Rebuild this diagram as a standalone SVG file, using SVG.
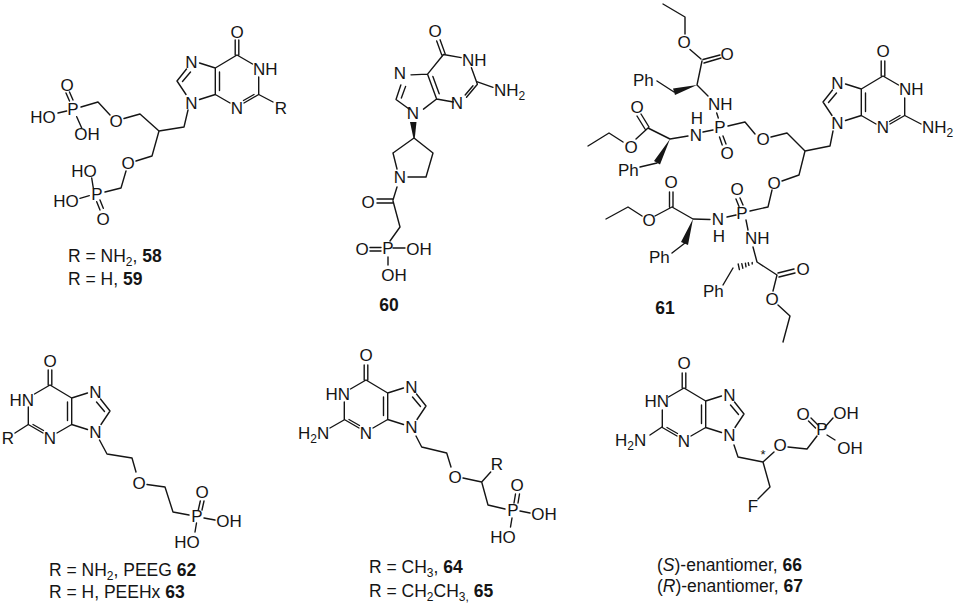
<svg xmlns="http://www.w3.org/2000/svg" width="957" height="607" viewBox="0 0 957 607">
<style>
text{font-family:"Liberation Sans",Arial,sans-serif;font-size:17px;fill:#151515}
.b{fill:none;stroke:#151515;stroke-width:1.4;stroke-linecap:round;stroke-linejoin:round}
.w{fill:#151515;stroke:none}
.m{text-anchor:middle}
.e{text-anchor:end}
.n{font-weight:bold}
.c{font-size:17.5px}
.s{font-size:12px}
.st{font-size:13px}
</style>
<defs>
<path id="purine" class="b" d="M0 0L15.5 9M21.7 22V39.5L7 48M17 39.5L6.5 45.5M-7 48L-21.7 39.5V13L0 0M-17.5 17V35.5M-21.7 13L-37.5 8M-50.5 14L-60 26M-46.5 17L-54.5 26.5M-60 26L-51 39.5M-37.5 44.5L-21.7 39.5M-1.8 0V-15M1.8 0V-15"/>
</defs>
<rect width="957" height="607" fill="#fff"/>

<g id="compound-58">
<use href="#purine" transform="translate(237 55)"/>
<path class="b" d="M258.7 94.5L273 102M188 110L184 127L159 131L140 114L124 118.5M110 115L98 102L81 107M69.5 101L66 93M73 100L69.5 92M58 113L66.7 111M76.7 116.7L81.7 128M159 131L152 156L136 161M126 171L121 188L105 192M96.7 201.7L100 210M100 200L103.3 208.3M93.3 188L91.7 178M80 198.3L89.3 195.7"/>
<text class="m" x="237" y="38">O</text>
<text x="253" y="75">NH</text>
<text class="m" x="237" y="113.5">N</text>
<text class="m" x="191.5" y="67.5">N</text>
<text class="m" x="191.5" y="108.5">N</text>
<text class="m" x="281" y="114">R</text>
<text class="m" x="116" y="127">O</text>
<text class="m" x="128" y="169">O</text>
<text class="m" x="73" y="115">P</text>
<text class="m" x="97" y="200">P</text>
<text class="m" x="67" y="91">O</text>
<text class="m" x="43" y="123">HO</text>
<text class="m" x="87" y="140">OH</text>
<text class="m" x="84" y="177">HO</text>
<text class="m" x="66" y="207">HO</text>
<text class="m" x="103" y="225">O</text>
<text class="c" x="68" y="262">R = NH<tspan class="s" dy="4">2</tspan><tspan dy="-4">, </tspan><tspan class="n">58</tspan></text>
<text class="c" x="68" y="285">R = H, <tspan class="n">59</tspan></text>
</g>

<g id="compound-60">
<use href="#purine" transform="translate(443.5 54.5) rotate(-20)"/>
<path class="b" d="M476.7 81.7L493 87.3M393 153L414 138L433 153L426 177L408 177M397 169L393 153M397 187L393 200M377 199H393M377 203H393M393 201L400 227L390 241M370 247.5H381M370 251H381M393 248H405M388 257V265"/>
<path class="w" d="M410 122L416.5 122L414.8 138L413.4 138Z"/>
<text class="m" x="435" y="37">O</text>
<text x="462" y="66">NH</text>
<text class="m" x="457" y="109">N</text>
<text class="m" x="400" y="79">N</text>
<text class="m" x="413" y="119">N</text>
<text x="494" y="96">NH<tspan class="s" dy="4">2</tspan></text>
<text class="m" x="400" y="183">N</text>
<text class="m" x="368" y="208">O</text>
<text class="m" x="362" y="255">O</text>
<text class="m" x="388" y="254">P</text>
<text class="m" x="419" y="255">OH</text>
<text class="m" x="394" y="281">OH</text>
<text class="m n c" x="389" y="311">60</text>
</g>

<g id="compound-61">
<use href="#purine" transform="translate(883 76)"/>
<path class="b" d="M904.7 115.5L921 124M833 131L830 146L805 151L787 133L771 137M755 134L745 122L728 126M723 136L726 144M719.5 137L722.2 145M716.7 113L718.3 118M703 132L713 130M688 136L670 139L648 128M649 127L641 114M645 129L637 116M648 128L636 139M623 142L609 133L588 146M640 167L657 163M708 96L697 85L702 61M703 59.5L720 55M704 63L721 58M690 49.5L701 59M685 34V17L663 4M674 92L657 81M805 151L799 175L782 181M772 190L768 207L750 211M736 199L739 206.5M740 198L743 205M727 217L736 215M710 219.5L693 219L672 207M669.5 192V207M673 192V207M672 207L655 216M642 216L628 207L606 219M685 243L672 253M746 220L748 230M753 247L757 262L777 275L773 291M778 273L794 269M779 277L795 273M778 305L790 316L783 342M733 268L723 285M752.2 262.4L752.2 264M748.3 262.8L748.9 265.4M745.4 263.2L746 266.8M741.8 263.6L742.8 268.2M738.2 264L739.4 269.6"/>
<path class="w" d="M670 139L654 161L660 164.500ZM697 85L673 88.500L675 95ZM693 219L681 242L688 245Z"/>
<text class="m" x="883" y="57">O</text>
<text x="899" y="95">NH</text>
<text class="m" x="883" y="133">N</text>
<text class="m" x="837.5" y="88.500">N</text>
<text class="m" x="837.5" y="129">N</text>
<text x="922" y="133">NH<tspan class="s" dy="4">2</tspan></text>
<text class="m" x="763" y="145">O</text>
<text class="m" x="774" y="189">O</text>
<text class="m" x="720" y="133">P</text>
<text class="m" x="727" y="159">O</text>
<text x="708" y="110">NH</text>
<text class="m" x="696" y="141">N</text>
<text class="m" x="697" y="124">H</text>
<text class="m" x="637" y="113">O</text>
<text class="m" x="631" y="153">O</text>
<text x="618" y="176">Ph</text>
<text class="m" x="684" y="48">O</text>
<text class="m" x="727" y="60">O</text>
<text x="633" y="86">Ph</text>
<text class="m" x="742" y="219">P</text>
<text class="m" x="737" y="195">O</text>
<text class="m" x="718" y="225">N</text>
<text class="m" x="719" y="242">H</text>
<text class="m" x="671" y="188">O</text>
<text class="m" x="649" y="226">O</text>
<text x="649" y="263">Ph</text>
<text x="745" y="244">NH</text>
<text x="703" y="297">Ph</text>
<text class="m" x="803" y="275">O</text>
<text class="m" x="772" y="305">O</text>
<text class="m n c" x="665" y="314">61</text>
</g>

<g id="compound-62">
<use href="#purine" transform="translate(50 385) scale(-1 1)"/>
<path class="b" d="M28.3 424.500L15 433M99.5 440L107 454L132 458L136 472M147 484.500L165 487L173 512L189 515M198.3 510L200.3 501M202 510L204 501M204 518L215 520M196.500 523L195 532"/>
<text class="m" x="50" y="367">O</text>
<text class="e" x="34" y="406">HN</text>
<text class="m" x="50" y="443.500">N</text>
<text class="m" x="95.500" y="397.500">N</text>
<text class="m" x="95.500" y="438">N</text>
<text class="m" x="8" y="444">R</text>
<text class="m" x="139" y="489">O</text>
<text class="m" x="197" y="522">P</text>
<text class="m" x="202" y="498">O</text>
<text class="m" x="229" y="527">OH</text>
<text class="m" x="187" y="548">HO</text>
<text class="c" x="49" y="576">R = NH<tspan class="s" dy="4">2</tspan><tspan dy="-4">, PEEG </tspan><tspan class="n">62</tspan></text>
<text class="c" x="49" y="598">R = H, PEEHx <tspan class="n">63</tspan></text>
</g>

<g id="compound-64">
<use href="#purine" transform="translate(366 380) scale(-1 1)"/>
<path class="b" d="M344 420L330 428M416 436L421.700 447L446.700 453L451 467M463 478L481.700 482L488 505L505 509M481.700 482L490.700 472M514 503L515.500 494M518 503L519.500 494M520 511L530 513M512 518L510.500 527"/>
<text class="m" x="366" y="361">O</text>
<text class="e" x="350" y="400">HN</text>
<text class="m" x="366" y="438.500">N</text>
<text class="m" x="411.500" y="392.500">N</text>
<text class="m" x="411.500" y="433">N</text>
<text x="298" y="439">H<tspan class="s" dy="4">2</tspan><tspan dy="-4">N</tspan></text>
<text class="m" x="455" y="483">O</text>
<text class="m" x="497" y="470">R</text>
<text class="m" x="513" y="516">P</text>
<text class="m" x="517" y="491">O</text>
<text class="m" x="544" y="520">OH</text>
<text class="m" x="503" y="543">HO</text>
<text class="c" x="369" y="573">R = CH<tspan class="s" dy="4">3</tspan><tspan dy="-4">, </tspan><tspan class="n">64</tspan></text>
<text class="c" x="369" y="597">R = CH<tspan class="s" dy="4">2</tspan><tspan dy="-4">CH</tspan><tspan class="s" dy="4">3,</tspan><tspan dy="-4"> </tspan><tspan class="n">65</tspan></text>
</g>

<g id="compound-66">
<use href="#purine" transform="translate(684 388) scale(-1 1)"/>
<path class="b" d="M662 427L650 435M734 445L738 457L763 462L774 452M788 447L807 449L817 436M811 418L818 425M808.500 421L815.500 428M825 427L833 418M827 435L835 440M763 462L770 487L758 499"/>
<text class="m" x="684" y="369">O</text>
<text class="e" x="669" y="407">HN</text>
<text class="m" x="684" y="446.500">N</text>
<text class="m" x="729.500" y="400.500">N</text>
<text class="m" x="729.500" y="441">N</text>
<text x="615" y="446">H<tspan class="s" dy="4">2</tspan><tspan dy="-4">N</tspan></text>
<text class="m" x="780" y="451">O</text>
<text class="m st" x="763" y="459">*</text>
<text class="m" x="822" y="435">P</text>
<text class="m" x="803" y="420">O</text>
<text class="m" x="846" y="419">OH</text>
<text class="m" x="850" y="454">OH</text>
<text class="m" x="753" y="512">F</text>
<text class="c" x="657" y="571">(<tspan font-style="italic">S</tspan>)-enantiomer, <tspan class="n">66</tspan></text>
<text class="c" x="657" y="592">(<tspan font-style="italic">R</tspan>)-enantiomer, <tspan class="n">67</tspan></text>
</g>
</svg>
